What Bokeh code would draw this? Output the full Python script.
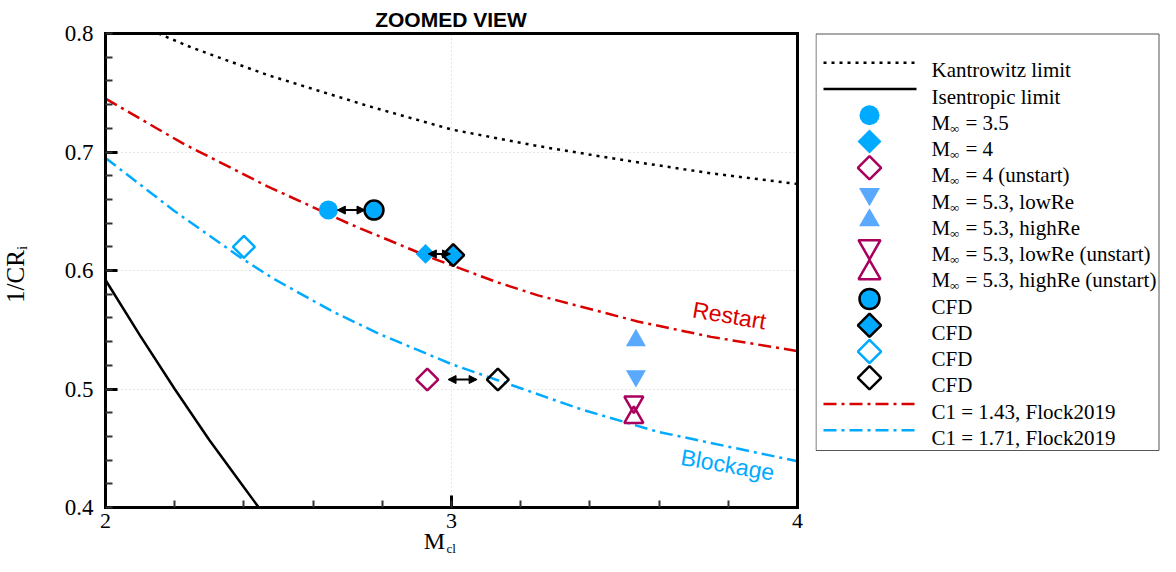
import math
from bokeh.plotting import figure
from bokeh.models import (Range1d, SingleIntervalTicker, FixedTicker, Label, Arrow, NormalHead,
                          LinearAxis, Grid)
from bokeh.layouts import row
from bokeh.embed import file_html
from bokeh.resources import INLINE
from bokeh.core.properties import value

# ---------------- data ----------------
M_kantrowitz = [2.153, 2.25, 2.468, 2.757, 3.0, 3.25, 3.5, 3.75, 4.0]
CR_kantrowitz = [0.800, 0.788, 0.765, 0.739, 0.719, 0.705, 0.693, 0.682, 0.673]

M_isentropic = [2.0, 2.1, 2.2, 2.3, 2.4, 2.443]
CR_isentropic = [0.592, 0.545, 0.500, 0.457, 0.417, 0.400]

M_c143 = [2.0, 2.225, 2.468, 2.708, 2.939, 3.133, 3.25, 3.538, 3.75, 4.0]
CR_c143 = [0.745, 0.707, 0.671, 0.639, 0.611, 0.590, 0.579, 0.557, 0.544, 0.532]

M_c171 = [2.0, 2.2, 2.39, 2.486, 2.659, 2.795, 3.0, 3.373, 3.595, 4.0]
CR_c171 = [0.695, 0.650, 0.611, 0.593, 0.565, 0.546, 0.521, 0.483, 0.464, 0.439]

M_exp35, CR_exp35 = [2.644], [0.651]
M_exp4, CR_exp4 = [2.925], [0.614]
M_exp4u, CR_exp4u = [2.930], [0.508]
M_low, CR_low = [3.533], [0.511]
M_high, CR_high = [3.533], [0.541]
M_lowu, CR_lowu = [3.527], [0.489]
M_highu, CR_highu = [3.527], [0.476]
M_cfd_circ, CR_cfd_circ = [2.776], [0.651]
M_cfd_dfill, CR_cfd_dfill = [3.005], [0.613]
M_cfd_dblue, CR_cfd_dblue = [2.400], [0.620]
M_cfd_dblack, CR_cfd_dblack = [3.134], [0.508]

legend_texts = ["Kantrowitz limit", "Isentropic limit", "M\u221e = 3.5", "M\u221e = 4",
                "M\u221e = 4 (unstart)", "M\u221e = 5.3, lowRe", "M\u221e = 5.3, highRe",
                "M\u221e = 5.3, lowRe (unstart)", "M\u221e = 5.3, highRe (unstart)",
                "CFD", "CFD", "CFD", "CFD",
                "C1 = 1.43, Flock2019", "C1 = 1.71, Flock2019"]

# ---------------- styles ----------------
SKY = "#00aaff"
TRI = "#59aaff"
CRIM = "#a8005c"
RED = "#d80000"
SERIF = "Liberation Serif"
SANS = "Liberation Sans"
DOT = "3 5"
DASHDOT = "13 5 3 5"
ROT = math.pi / 4

W, H = 815, 556
FL, FR, FT, FB = 105, 797, 33, 507          # plot box in canvas pixels
XMIN, XMAX, YMIN, YMAX = 2.0, 4.0, 0.4, 0.8
sx = (FR - FL) / (XMAX - XMIN)
sy = (FB - FT) / (YMAX - YMIN)

p = figure(width=W, height=H,
           x_range=Range1d(XMIN - FL / sx, XMAX + (W - FR) / sx),
           y_range=Range1d(YMIN - (H - FB) / sy, YMAX + FT / sy),
           output_backend="svg", toolbar_location=None,
           min_border_left=0, min_border_right=0, min_border_top=0, min_border_bottom=0)
p.background_fill_color = "white"
p.border_fill_color = "white"
p.outline_line_color = None

xax, yax = p.xaxis[0], p.yaxis[0]
xax.fixed_location = YMIN
yax.fixed_location = XMIN
xax.bounds = (XMIN, XMAX)
yax.bounds = (YMIN, YMAX)
xax.ticker = SingleIntervalTicker(interval=1, num_minor_ticks=5)
yax.ticker = SingleIntervalTicker(interval=0.1, num_minor_ticks=5)
for ax in (xax, yax):
    ax.axis_line_width = 3
    ax.axis_line_color = "black"
    ax.axis_line_cap = "square"
    ax.major_tick_in = 12
    ax.major_tick_out = 0
    ax.minor_tick_in = 7
    ax.minor_tick_out = 0
    ax.major_tick_line_width = 3
    ax.minor_tick_line_width = 2
    ax.major_tick_line_color = "black"
    ax.minor_tick_line_color = "#333333"
    ax.major_label_text_font = SERIF
    ax.major_label_text_color = "black"
xax.major_label_text_font_size = "22px"
yax.major_label_text_font_size = "23px"
xax.major_label_standoff = 6
yax.major_label_standoff = 12

# top and right frame lines as tick-less axes
top = LinearAxis(fixed_location=YMAX, bounds=(XMIN, XMAX), ticker=FixedTicker(ticks=[]),
                 axis_line_width=3, axis_line_color="black", axis_line_cap="square",
                 major_tick_in=0, major_tick_out=0, minor_tick_in=0, minor_tick_out=0)
right = LinearAxis(fixed_location=XMAX, bounds=(YMIN, YMAX), ticker=FixedTicker(ticks=[]),
                   axis_line_width=3, axis_line_color="black", axis_line_cap="square",
                   major_tick_in=0, major_tick_out=0, minor_tick_in=0, minor_tick_out=0)
p.add_layout(top, "above")
p.add_layout(right, "right")

has_cross = "cross_bounds" in Grid.properties()
for g, cb in ((p.xgrid[0], (YMIN, YMAX)), (p.ygrid[0], (XMIN, XMAX))):
    g.grid_line_color = "#cccccc"
    g.grid_line_dash = "1 3"
    g.grid_line_width = 1
    if has_cross:
        g.cross_bounds = cb
    else:
        g.visible = False

# curves
p.line(M_kantrowitz, CR_kantrowitz, line_color="black", line_width=2.5, line_dash=DOT)
p.line(M_isentropic, CR_isentropic, line_color="black", line_width=2.5)
p.line(M_c143, CR_c143, line_color=RED, line_width=2.5, line_dash=DASHDOT)
p.line(M_c171, CR_c171, line_color=SKY, line_width=2.5, line_dash=DASHDOT)

# markers
p.scatter(M_exp35, CR_exp35, marker="circle", size=19, fill_color=SKY, line_color=None)
p.scatter(M_exp4, CR_exp4, marker="square", angle=ROT, size=14, fill_color=SKY, line_color=None)
p.scatter(M_exp4u, CR_exp4u, marker="square", angle=ROT, size=15.5, fill_color=None,
          line_color=CRIM, line_width=2.5)
p.scatter(M_low, CR_low, marker="inverted_triangle", size=20, fill_color=TRI, line_color=None)
p.scatter(M_high, CR_high, marker="triangle", size=20, fill_color=TRI, line_color=None)
p.scatter(M_lowu, CR_lowu, marker="inverted_triangle", size=19, fill_color=None,
          line_color=CRIM, line_width=2.5)
p.scatter(M_highu, CR_highu, marker="triangle", size=19, fill_color=None,
          line_color=CRIM, line_width=2.5)
p.scatter(M_cfd_circ, CR_cfd_circ, marker="circle", size=19, fill_color=SKY,
          line_color="black", line_width=2.5)
p.scatter(M_cfd_dfill, CR_cfd_dfill, marker="square", angle=ROT, size=15.5, fill_color=SKY,
          line_color="black", line_width=2.5)
p.scatter(M_cfd_dblue, CR_cfd_dblue, marker="square", angle=ROT, size=15.5, fill_color=None,
          line_color=SKY, line_width=2.5)
p.scatter(M_cfd_dblack, CR_cfd_dblack, marker="square", angle=ROT, size=15.5, fill_color=None,
          line_color="black", line_width=2.5)

# double arrows between experiment and CFD
pairs = [(M_exp35[0], M_cfd_circ[0], CR_exp35[0], 0.040),
         (M_exp4[0], M_cfd_dfill[0], CR_exp4[0], 0.032),
         (M_exp4u[0], M_cfd_dblack[0], CR_exp4u[0], 0.042)]
for xa, xb, yy, half in pairs:
    mid = 0.5 * (xa + xb)
    p.add_layout(Arrow(start=NormalHead(size=8, fill_color="black", line_color="black"),
                       end=NormalHead(size=8, fill_color="black", line_color="black"),
                       x_start=mid - half, y_start=yy, x_end=mid + half, y_end=yy,
                       line_width=2, line_color="black"))

# curve annotations
p.add_layout(Label(x=3.803, y=0.562, text="Restart", angle=-0.17, text_font=SANS,
                   text_font_size="23px", text_color=RED, text_align="center",
                   text_baseline="middle"))
p.add_layout(Label(x=3.798, y=0.436, text="Blockage", angle=-0.17, text_font=SANS,
                   text_font_size="23px", text_color=SKY, text_align="center",
                   text_baseline="middle"))

# title and axis labels (positions given in canvas pixels, converted to data units)
def dx(px):
    return XMIN + (px - FL) / sx

def dy(py):
    return YMAX - (py - FT) / sy

p.add_layout(Label(x=dx(450.5), y=dy(18.5), text="ZOOMED VIEW", text_font=SANS,
                   text_font_style="bold", text_font_size="21px", text_color="black",
                   text_align="center", text_baseline="middle"))
p.add_layout(Label(x=dx(434), y=dy(540.5), text="M", text_font=SERIF, text_color="black",
                   text_font_size="24px", text_align="center", text_baseline="middle"))
p.add_layout(Label(x=dx(446), y=dy(547.5), text="cl", text_font=SERIF, text_color="black",
                   text_font_size="13px", text_align="left", text_baseline="middle"))
p.add_layout(Label(x=dx(14.5), y=dy(276), text="1/CR", angle=math.pi / 2,
                   text_font=SERIF, text_font_size="25px", text_align="center",
                   text_baseline="middle", text_color="black"))
p.add_layout(Label(x=dx(21.5), y=dy(247.5), text="i", angle=math.pi / 2,
                   text_font=SERIF, text_font_size="15px", text_align="center",
                   text_baseline="middle", text_color="black"))

# ---------------- legend panel ----------------
LW = 1160 - W
leg = figure(width=LW, height=H, x_range=Range1d(0, LW), y_range=Range1d(H, 0),
             output_backend="svg", toolbar_location=None,
             x_axis_location=None, y_axis_location=None,
             min_border_left=0, min_border_right=0, min_border_top=0, min_border_bottom=0)
leg.grid.visible = False
leg.outline_line_color = None
leg.background_fill_color = "white"
leg.border_fill_color = "white"
leg.quad(left=[0.5], right=[LW - 1.5], top=[FT + 0.5], bottom=[450], fill_color=None,
         line_color="#555555", line_width=1)

ys = [62.3 + 26.25 * i for i in range(len(legend_texts))]
LX0, LX1, MX, TX = 8, 101, 54, 116

def lline(i, color, dash, width=2.5):
    leg.line([LX0, LX1], [ys[i], ys[i]], line_color=color, line_width=width, line_dash=dash)

def lmark(i, **kw):
    leg.scatter([MX], [ys[i]], **kw)

lline(0, "black", DOT)
lline(1, "black", "solid")
lmark(2, marker="circle", size=20, fill_color=SKY, line_color=None)
lmark(3, marker="square", angle=ROT, size=17, fill_color=SKY, line_color=None)
lmark(4, marker="square", angle=ROT, size=16.5, fill_color=None, line_color=CRIM, line_width=2.5)
lmark(5, marker="inverted_triangle", size=21, fill_color=TRI, line_color=None)
lmark(6, marker="triangle", size=21, fill_color=TRI, line_color=None)
lmark(7, marker="inverted_triangle", size=22, fill_color=None, line_color=CRIM, line_width=2.5)
lmark(8, marker="triangle", size=22, fill_color=None, line_color=CRIM, line_width=2.5)
lmark(9, marker="circle", size=20, fill_color=SKY, line_color="black", line_width=2.5)
lmark(10, marker="square", angle=ROT, size=16.5, fill_color=SKY, line_color="black", line_width=2.5)
lmark(11, marker="square", angle=ROT, size=16.5, fill_color=None, line_color=SKY, line_width=2.5)
lmark(12, marker="square", angle=ROT, size=16.5, fill_color=None, line_color="black", line_width=2.5)
lline(13, RED, DASHDOT)
lline(14, SKY, DASHDOT)

main_x, main_y, main_t = [], [], []
sub_x, sub_y, sub_t = [], [], []
for i, t in enumerate(legend_texts):
    if t.startswith("M\u221e"):
        main_x += [TX, TX + 34]
        main_y += [ys[i] + 7.5, ys[i] + 7.5]
        main_t += ["M", t[3:]]
        sub_x.append(TX + 18.5)
        sub_y.append(ys[i] + 13)
        sub_t.append("\u221e")
    else:
        main_x.append(TX)
        main_y.append(ys[i] + 7.5)
        main_t.append(t)
leg.text(main_x, main_y, text=main_t, text_font=value(SERIF), text_font_size="21px",
         text_color="black", text_align="left", text_baseline="alphabetic")
leg.text(sub_x, sub_y, text=sub_t, text_font=value(SERIF), text_font_size="13px",
         text_color="black", text_align="left", text_baseline="alphabetic")

layout = row(p, leg)
open("out.html", "w").write(file_html(layout, INLINE))
